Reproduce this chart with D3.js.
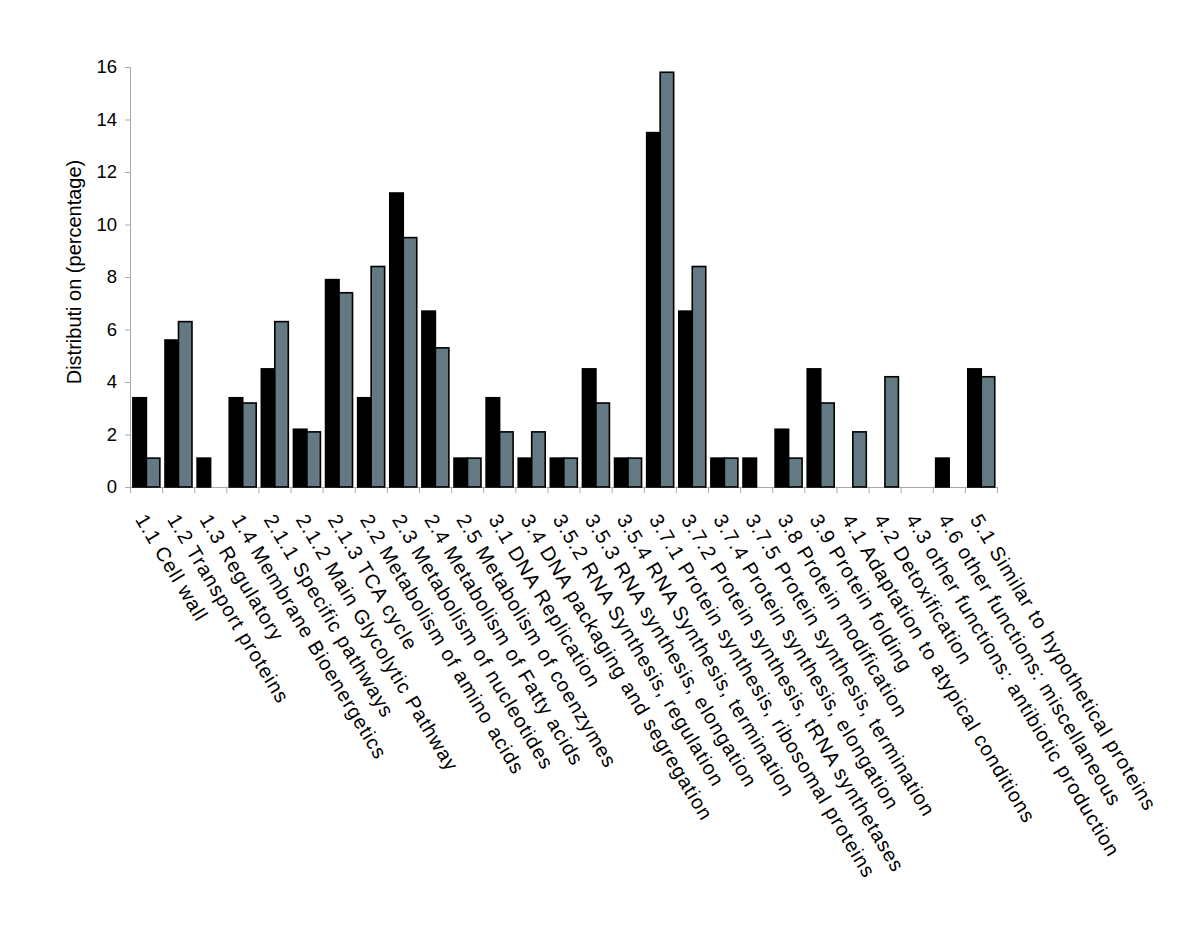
<!DOCTYPE html>
<html>
<head>
<meta charset="utf-8">
<script src="https://cdn.jsdelivr.net/npm/d3@7"></script>
<style>
  body { margin: 0; background: #fff; }
  svg text { font-family: "Liberation Sans", Arial, Helvetica, sans-serif; fill: #000; }
</style>
</head>
<body>
<div id="chart"></div>
<script>
// categorias funcionales
const categories = [
  '1.1 Cell wall', '1.2 Transport proteins', '1.3 Regulatory', '1.4 Membrane Bioenergetics',
  '2.1.1 Specific pathways', '2.1.2 Main Glycolytic Pathway', '2.1.3 TCA cycle',
  '2.2 Metabolism of amino acids', '2.3 Metabolism of nucleotides', '2.4 Metabolism of Fatty acids',
  '2.5 Metabolism of coenzymes', '3.1 DNA Replication', '3.4 DNA packaging and segregation',
  '3.5.2 RNA Synthesis, regulation', '3.5.3 RNA synthesis, elongation', '3.5.4 RNA Synthesis, termination',
  '3.7.1 Protein synthesis, ribosomal proteins', '3.7.2 Protein synthesis, tRNA synthetases',
  '3.7.4 Protein synthesis, elongation', '3.7.5 Protein synthesis, termination',
  '3.8 Protein modification', '3.9 Protein folding', '4.1 Adaptation to atypical conditions',
  '4.2 Detoxification', '4.3 other functions: antibiotic production', '4.6 other functions: miscellaneous',
  '5.1 Similar to hypothetical proteins'
];
const seriesBlack = [3.4, 5.6, 1.1, 3.4, 4.5, 2.2, 7.9, 3.4, 11.2, 6.7, 1.1, 3.4, 1.1, 1.1,
  4.5, 1.1, 13.5, 6.7, 1.1, 1.1, 2.2, 4.5, 0, 0, 0, 1.1, 4.5];
const seriesGrey = [1.1, 6.3, 0, 3.2, 6.3, 2.1, 7.4, 8.4, 9.5, 5.3, 1.1, 2.1, 2.1, 1.1,
  3.2, 1.1, 15.8, 8.4, 1.1, 0, 1.1, 3.2, 2.1, 4.2, 0, 0, 4.2];
const yTicks = [0, 2, 4, 6, 8, 10, 12, 14, 16];
const yLabel = 'Distributi on (percentage)';

const width = 1200;
const height = 925;
const plotLeft = 130, plotRight = 997, plotTop = 67, plotBottom = 487;

const svg = d3.select('#chart').append('svg')
  .attr('width', width)
  .attr('height', height);

const x = d3.scaleBand().domain(categories).range([plotLeft, plotRight]).padding(0);
const xSub = d3.scaleBand().domain(['black', 'grey'])
  .range([x.bandwidth() * 0.09, x.bandwidth() * 0.93]).padding(0);
const xEdges = d3.scaleLinear().domain([0, categories.length]).range([plotLeft, plotRight]);
const y = d3.scaleLinear().domain([0, 16]).range([plotBottom, plotTop]);

// eje y
const yAxis = svg.append('g')
  .attr('transform', `translate(${plotLeft},0)`)
  .call(d3.axisLeft(y).tickValues(yTicks).tickSize(5).tickPadding(8));
yAxis.select('.domain').attr('stroke', '#aaa');
yAxis.selectAll('.tick line').attr('stroke', '#aaa');
yAxis.selectAll('.tick text').attr('font-size', 18.5).attr('fill', '#000')
  .attr('font-family', '"Liberation Sans", Arial, sans-serif');

// eje x (marcas entre categorias)
const xAxis = svg.append('g')
  .attr('transform', `translate(0,${plotBottom})`)
  .call(d3.axisBottom(xEdges).tickValues(d3.range(categories.length + 1)).tickSize(6).tickFormat(''));
xAxis.select('.domain').attr('stroke', '#aaa');
xAxis.selectAll('.tick line').attr('stroke', '#aaa');

// barras
const rows = categories.map((c, i) => ({ cat: c, black: seriesBlack[i], grey: seriesGrey[i] }));
const bars = [];
rows.forEach((r) => {
  if (r.black > 0) bars.push({ cat: r.cat, key: 'black', value: r.black });
  if (r.grey > 0) bars.push({ cat: r.cat, key: 'grey', value: r.grey });
});

svg.append('g').attr('class', 'bars')
  .selectAll('rect')
  .data(bars)
  .enter().append('rect')
  .attr('x', (d) => x(d.cat) + xSub(d.key))
  .attr('y', (d) => y(d.value))
  .attr('width', xSub.bandwidth())
  .attr('height', (d) => y(0) - y(d.value))
  .attr('fill', (d) => d.key === 'black' ? '#000' : '#637984')
  .attr('stroke', '#000')
  .attr('stroke-width', 1.6);

// etiquetas rotadas
svg.append('g').attr('class', 'xlabels')
  .selectAll('text')
  .data(categories)
  .enter().append('text')
  .attr('transform', (d) => `translate(${x(d) + x.bandwidth() / 2 + 1},512) rotate(59)`)
  .attr('dy', '0.72em')
  .attr('font-size', 20)
  .attr('letter-spacing', '1px')
  .text((d) => d);

// titulo eje y
svg.append('text')
  .attr('transform', 'translate(81,272) rotate(-90)')
  .attr('text-anchor', 'middle')
  .attr('font-size', 20)
  .text(yLabel);
</script>
</body>
</html>
